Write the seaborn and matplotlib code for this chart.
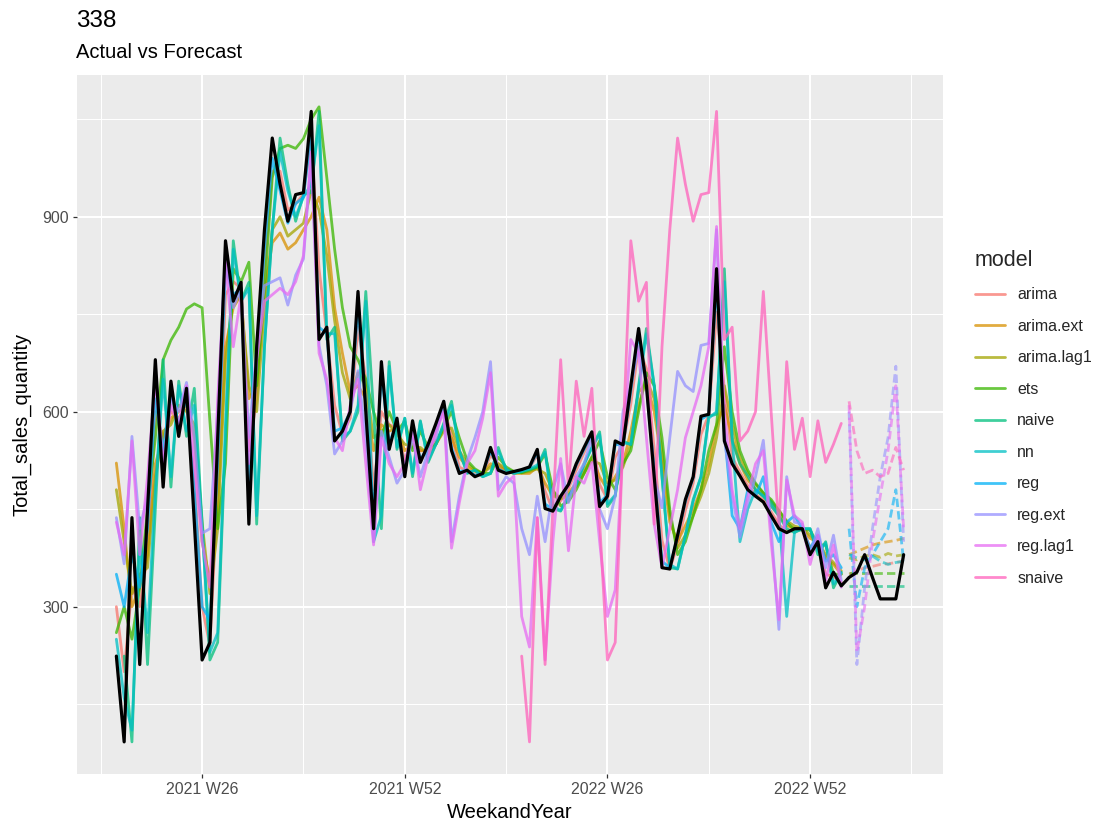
import matplotlib
matplotlib.use("Agg")
import matplotlib.pyplot as plt
import seaborn as sns
import pandas as pd
from matplotlib.lines import Line2D

sns.set_theme(style="darkgrid")
plt.rcParams['font.family'] = ['Liberation Sans', 'DejaVu Sans']

# ---------------- data ----------------
models = ["arima", "arima.ext", "arima.lag1", "ets", "naive", "nn",
          "reg", "reg.ext", "reg.lag1", "snaive"]
model_colors = ["#F8766D", "#D89000", "#A3A500", "#39B600", "#00BF7D",
                "#00BFC4", "#00B0F6", "#9590FF", "#E76BF3", "#FF62BC"]

tick_weeks = [26, 52, 78, 104]
tick_labels = ["2021 W26", "2021 W52", "2022 W26", "2022 W52"]

actual_start = 15      # 2021 W15
fit_start = 15         # fitted values start
fc_start = 109         # forecasts start

actual = [224, 92, 437, 211, 450, 680, 484, 647, 562, 636,
          430, 218, 245, 560, 863, 770, 799, 427, 700, 880,
          1021, 950, 893, 934, 937, 1062, 711, 730, 555, 570,
          600, 785, 600, 420, 677, 542, 590, 500, 586, 522,
          550, 582, 616, 540, 505, 510, 500, 505, 545, 510,
          505, 508, 511, 515, 542, 451, 447, 470, 488, 520,
          545, 569, 454, 470, 555, 549, 640, 728, 640, 500,
          360, 358, 410, 465, 500, 593, 596, 820, 555, 520,
          501, 480, 470, 461, 440, 420, 414, 420, 420, 380,
          400, 329, 353, 332, 345, 353, 380, 345, 312, 312, 312, 380]

fit_arima = [300, 200, 330, 300, 380, 600, 560, 600, 590, 610,
             500, 300, 240, 480, 780, 800, 790, 540, 620, 820,
             970, 970, 910, 920, 935, 1020, 820, 720, 610, 565,
             590, 730, 650, 480, 600, 580, 575, 525, 560, 540,
             540, 572, 605, 565, 515, 508, 503, 503, 533, 520,
             507, 507, 510, 513, 534, 478, 448, 463, 482, 510,
             537, 562, 488, 465, 530, 550, 612, 700, 666, 542,
             402, 358, 395, 448, 490, 565, 595, 753, 635, 530,
             507, 486, 473, 464, 446, 426, 416, 418, 420, 392,
             394, 350, 346, 338]
fit_arima_ext = [521, 420, 300, 330, 380, 520, 560, 590, 600, 610,
                 560, 400, 340, 450, 700, 760, 780, 620, 640, 780,
                 860, 875, 850, 860, 880, 900, 930, 880, 760, 690,
                 630, 640, 620, 540, 580, 570, 575, 540, 550, 540,
                 540, 555, 575, 560, 530, 515, 508, 505, 520, 515,
                 510, 505, 505, 505, 515, 490, 470, 468, 475, 490,
                 510, 530, 500, 480, 500, 520, 570, 630, 645, 600,
                 520, 430, 400, 425, 450, 480, 520, 580, 610, 560,
                 520, 495, 480, 470, 455, 440, 425, 420, 420, 405,
                 400, 375, 365, 350]
fit_arima_lag1 = [480, 400, 320, 350, 360, 500, 570, 580, 610, 600,
                  580, 430, 320, 420, 680, 780, 770, 640, 600, 760,
                  880, 900, 870, 880, 890, 940, 910, 840, 740, 660,
                  620, 660, 640, 560, 570, 580, 565, 550, 545, 545,
                  535, 550, 570, 575, 540, 520, 510, 505, 515, 520,
                  512, 508, 506, 508, 512, 505, 478, 466, 470, 485,
                  505, 525, 520, 490, 495, 515, 550, 610, 650, 620,
                  540, 440, 390, 410, 440, 470, 505, 560, 640, 580,
                  530, 505, 488, 475, 462, 448, 432, 424, 421, 410,
                  400, 380, 368, 355]
fit_ets = [260, 300, 250, 330, 450, 560, 680, 710, 730, 758,
           766, 760, 585, 420, 520, 820, 800, 830, 640, 790,
           960, 1005, 1010, 1005, 1020, 1050, 1069, 960, 850, 760,
           700, 680, 650, 600, 560, 600, 570, 585, 540, 570,
           545, 550, 575, 600, 560, 525, 512, 505, 505, 530,
           515, 508, 506, 510, 515, 535, 480, 455, 462, 480,
           505, 530, 555, 500, 480, 520, 540, 600, 660, 640,
           560, 450, 380, 400, 440, 480, 540, 580, 700, 600,
           540, 510, 490, 475, 465, 448, 430, 418, 418, 418,
           395, 395, 350, 350]
fit_naive = [None,
             224, 92, 437, 211, 450, 680, 484, 647, 562, 636,
             430, 218, 245, 560, 863, 770, 799, 427, 700, 880,
             1021, 950, 893, 934, 937, 1062, 711, 730, 555, 570,
             600, 785, 600, 420, 677, 542, 590, 500, 586, 522,
             550, 582, 616, 540, 505, 510, 500, 505, 545, 510,
             505, 508, 511, 515, 542, 451, 447, 470, 488, 520,
             545, 569, 454, 470, 555, 549, 640, 728, 640, 500,
             360, 358, 410, 465, 500, 593, 596, 820, 555, 520,
             501, 480, 470, 461, 440, 420, 414, 420, 420, 380,
             400, 329, 353]
fit_nn = [250, 160, 110, 400, 260, 480, 650, 500, 640, 570,
          610, 420, 230, 260, 580, 850, 770, 790, 440, 700,
          880, 1000, 940, 900, 930, 950, 1040, 720, 720, 560,
          570, 610, 770, 400, 440, 670, 545, 590, 505, 585,
          525, 550, 580, 610, 540, 506, 510, 500, 505, 540,
          512, 505, 508, 512, 518, 538, 455, 448, 470, 488,
          518, 545, 565, 458, 472, 552, 550, 635, 720, 640,
          500, 365, 358, 410, 462, 500, 590, 600, 800, 560,
          400, 450, 480, 470, 455, 440, 285, 415, 420, 420,
          385, 398, 335, 352]
fit_reg = [350, 300, 380, 330, 420, 620, 540, 630, 580, 620,
           480, 300, 280, 520, 820, 780, 790, 480, 680, 850,
           990, 940, 890, 920, 930, 1030, 730, 720, 570, 575,
           600, 760, 610, 440, 660, 550, 585, 505, 580, 525,
           548, 578, 610, 545, 508, 510, 502, 505, 540, 512,
           506, 507, 510, 514, 538, 458, 450, 470, 487, 518,
           542, 565, 460, 472, 550, 548, 632, 720, 645, 510,
           370, 360, 408, 462, 498, 588, 596, 800, 570, 440,
           420, 480, 470, 500, 430, 400, 430, 440, 420, 390,
           410, 370, 380, 360]
fit_reg_ext = [437, 366, 562, 420, 470, 663, 515, 620, 600, 645,
               560, 413, 420, 600, 846, 760, 790, 560, 700, 794,
               800, 806, 764, 810, 835, 993, 702, 640, 535, 555,
               600, 663, 560, 400, 570, 530, 490, 510, 560, 500,
               540, 560, 616, 400, 470, 525, 560, 600, 677, 480,
               500, 490, 420, 380, 470, 400, 480, 520, 460, 500,
               520, 560, 450, 420, 470, 600, 640, 700, 640, 500,
               452, 560, 662, 640, 631, 702, 705, 880, 560, 470,
               407, 460, 500, 556, 420, 265, 500, 430, 427, 380,
               420, 360, 410, 340]
fit_reg_lag1 = [430, 380, 555, 380, 500, 650, 520, 610, 580, 640,
                520, 400, 330, 620, 830, 700, 780, 520, 680, 770,
                780, 790, 780, 800, 840, 1000, 690, 650, 560, 540,
                610, 650, 520, 395, 560, 520, 500, 520, 575, 480,
                530, 570, 600, 390, 460, 520, 540, 590, 660, 470,
                490, 501, 285, 238, 437, 218, 400, 528, 386, 500,
                490, 522, 400, 285, 326, 550, 711, 690, 560, 427,
                360, 420, 480, 560, 600, 640, 700, 885, 600, 480,
                420, 470, 520, 540, 400, 280, 495, 440, 430, 365,
                410, 340, 395, 330]
fit_snaive = [None] * 52 + [
              224, 92, 437, 211, 450, 680, 484, 647, 562, 636,
              430, 218, 245, 560, 863, 770, 799, 427, 700, 880,
              1021, 950, 893, 934, 937, 1062, 711, 730, 555, 570,
              600, 785, 600, 420, 677, 542, 590, 500, 586, 522,
              550, 582]

fc_arima = [350, 355, 360, 362, 365, 366, 368, 370]
fc_arima_ext = [380, 385, 390, 395, 398, 400, 402, 405]
fc_arima_lag1 = [375, 372, 378, 380, 376, 382, 378, 380]
fc_ets = [352, 352, 352, 352, 352, 352, 352, 352]
fc_naive = [332, 332, 332, 332, 332, 332, 332, 332]
fc_nn = [380, 375, 372, 378, 370, 365, 368, 370]
fc_reg = [420, 300, 360, 380, 400, 420, 480, 370]
fc_reg_ext = [600, 211, 330, 420, 500, 560, 670, 400]
fc_reg_lag1 = [610, 230, 300, 400, 470, 540, 640, 420]
fc_snaive = [616, 540, 505, 510, 500, 505, 545, 510]

fitted = dict(zip(models, [fit_arima, fit_arima_ext, fit_arima_lag1, fit_ets,
                           fit_naive, fit_nn, fit_reg, fit_reg_ext,
                           fit_reg_lag1, fit_snaive]))
forecast = dict(zip(models, [fc_arima, fc_arima_ext, fc_arima_lag1, fc_ets,
                             fc_naive, fc_nn, fc_reg, fc_reg_ext,
                             fc_reg_lag1, fc_snaive]))

# ---------------- tidy frames ----------------
rows = []
for m, vals in fitted.items():
    for i, v in enumerate(vals):
        if v is not None:
            rows.append((m, fit_start + i, v))
df_fit = pd.DataFrame(rows, columns=["model", "week", "value"])

rows = []
for m, vals in forecast.items():
    for i, v in enumerate(vals):
        rows.append((m, fc_start + i, v))
df_fc = pd.DataFrame(rows, columns=["model", "week", "value"])

df_act = pd.DataFrame({"week": list(range(actual_start, actual_start + len(actual))),
                       "value": actual})

palette = dict(zip(models, model_colors))

# ---------------- figure ----------------
W, H = 1097, 824
fig = plt.figure(figsize=(W / 100, H / 100), dpi=100)
fig.patch.set_facecolor("white")
ax = fig.add_axes([77 / W, 50 / H, (943 - 77) / W, (774 - 75) / H])
ax.set_facecolor("#EBEBEB")

sns.lineplot(data=df_fit, x="week", y="value", hue="model", hue_order=models,
             palette=palette, estimator=None, linewidth=2.0, alpha=0.75,
             legend=False, ax=ax)
sns.lineplot(data=df_fc, x="week", y="value", hue="model", hue_order=models,
             palette=palette, estimator=None, linewidth=2.0, alpha=0.6,
             linestyle=(0, (3, 1.5)), legend=False, ax=ax)
sns.lineplot(data=df_act, x="week", y="value", color="black", linewidth=2.3,
             estimator=None, ax=ax)

ax.set_xlim(9.95, 121.05)
ax.set_ylim(42.6, 1118)
ax.set_xticks(tick_weeks)
ax.set_xticklabels(tick_labels)
ax.set_xticks([13, 39, 65, 91, 117], minor=True)
ax.set_yticks([300, 600, 900])
ax.set_yticks([150, 450, 750, 1050], minor=True)
ax.set_axisbelow(True)
ax.grid(which="major", color="white", linewidth=1.5)
ax.grid(which="minor", color="white", linewidth=0.75)
for s in ax.spines.values():
    s.set_visible(False)
ax.tick_params(which="major", length=3, width=0.9, color="#333333",
               labelsize=11.5, labelcolor="#4D4D4D", pad=3, bottom=True, left=True)
ax.tick_params(which="minor", length=0)
ax.set_xlabel("")
ax.set_ylabel("")

fig.text(510 / W, 1 - 813 / H, "WeekandYear", ha="center", va="center",
         fontsize=14.5, color="black")
fig.text(22 / W, 1 - 424 / H, "Total_sales_quantity", ha="center", va="center",
         rotation=90, fontsize=14.5, color="black")
fig.text(76 / W, 1 - 21 / H, "338", ha="left", va="center", fontsize=17.5,
         color="black")
fig.text(76 / W, 1 - 53 / H, "Actual vs Forecast", ha="left", va="center",
         fontsize=14.5, color="black")

handles = [Line2D([0], [0], color=c, lw=2.0, alpha=0.75) for c in model_colors]
fig.legend(handles, models, title="model", loc="upper left",
           bbox_to_anchor=(975 / W, 1 - 250 / H), frameon=False,
           fontsize=11.5, title_fontsize=15.5, handlelength=1.9,
           handletextpad=0.75, labelspacing=1.03, alignment="left",
           borderaxespad=0, borderpad=0)

fig.savefig("out.png", dpi=100)
